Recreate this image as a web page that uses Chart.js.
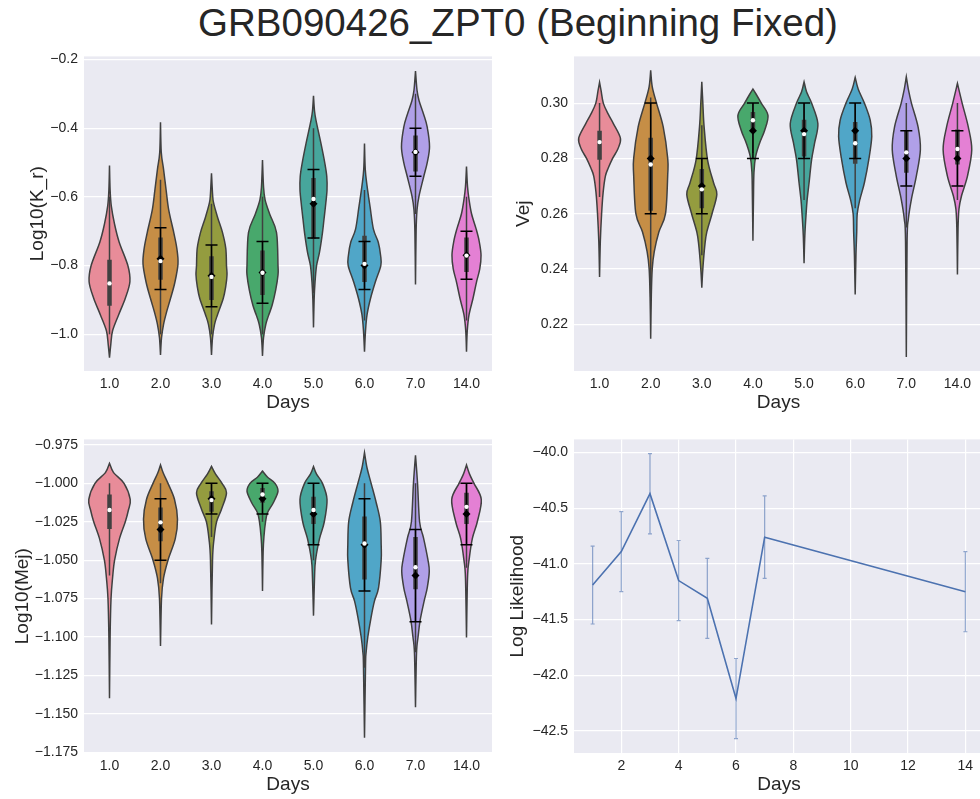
<!DOCTYPE html>
<html>
<head>
<meta charset="utf-8">
<script src="https://cdn.jsdelivr.net/npm/chart.js@4.4.1/dist/chart.umd.min.js"></script>
<style>
  body { margin: 0; background: #fff; width: 980px; height: 799px; overflow: hidden; position: relative;
         font-family: 'Liberation Sans', Arial, sans-serif; }
  .panel { position: absolute; }
  #title { position: absolute; left: 0; width: 1036px; top: 1px; text-align: center;
           font-size: 38.5px; color: #262626; white-space: nowrap; }
</style>
</head>
<body>
<div id="title">GRB090426_ZPT0 (Beginning Fixed)</div>
<div class="panel" style="left:26px;top:42px;width:466px;height:372px"><canvas id="krChart"></canvas></div>
<div class="panel" style="left:512px;top:42px;width:471px;height:372px"><canvas id="vejChart"></canvas></div>
<div class="panel" style="left:11px;top:425px;width:481px;height:371px"><canvas id="mejChart"></canvas></div>
<div class="panel" style="left:506px;top:425px;width:478px;height:371px"><canvas id="llChart"></canvas></div>
<script>
// ---- data ----
const days = ['1.0', '2.0', '3.0', '4.0', '5.0', '6.0', '7.0', '14.0'];

// violin outlines: [value, half width in category units]
const krShapes = [
  [[-0.509,0],[-0.58,0.012],[-0.626,0.035],[-0.68,0.10],[-0.732,0.19],[-0.80,0.36],[-0.847,0.40],[-0.895,0.31],[-0.943,0.18],[-0.99,0.06],[-1.03,0.025],[-1.068,0]],
  [[-0.383,0],[-0.47,0.015],[-0.52,0.06],[-0.58,0.11],[-0.637,0.16],[-0.704,0.26],[-0.75,0.32],[-0.795,0.343],[-0.85,0.28],[-0.896,0.196],[-0.935,0.12],[-0.971,0.06],[-1.01,0.02],[-1.06,0]],
  [[-0.531,0],[-0.59,0.02],[-0.617,0.04],[-0.66,0.12],[-0.704,0.216],[-0.75,0.28],[-0.80,0.294],[-0.827,0.304],[-0.86,0.28],[-0.896,0.23],[-0.943,0.118],[-0.971,0.06],[-1.01,0.02],[-1.06,0]],
  [[-0.493,0],[-0.57,0.02],[-0.608,0.05],[-0.65,0.14],[-0.704,0.275],[-0.80,0.304],[-0.827,0.304],[-0.87,0.26],[-0.915,0.19],[-0.945,0.12],[-0.971,0.065],[-1.01,0.02],[-1.063,0]],
  [[-0.306,0],[-0.35,0.02],[-0.378,0.05],[-0.445,0.147],[-0.50,0.22],[-0.54,0.26],[-0.579,0.265],[-0.62,0.24],[-0.665,0.206],[-0.704,0.176],[-0.761,0.118],[-0.80,0.06],[-0.848,0.03],[-0.90,0.012],[-0.98,0]],
  [[-0.445,0],[-0.52,0.015],[-0.568,0.05],[-0.63,0.11],[-0.694,0.175],[-0.732,0.27],[-0.77,0.315],[-0.80,0.32],[-0.848,0.212],[-0.896,0.118],[-0.943,0.05],[-0.99,0.02],[-1.051,0]],
  [[-0.234,0],[-0.29,0.03],[-0.32,0.07],[-0.36,0.16],[-0.397,0.23],[-0.454,0.275],[-0.50,0.23],[-0.54,0.163],[-0.597,0.07],[-0.637,0.03],[-0.70,0.012],[-0.855,0]],
  [[-0.512,0],[-0.57,0.02],[-0.608,0.05],[-0.65,0.10],[-0.694,0.19],[-0.73,0.25],[-0.77,0.285],[-0.81,0.26],[-0.848,0.196],[-0.896,0.127],[-0.943,0.05],[-0.99,0.015],[-1.051,0]]
];
const krQ3 = [-0.783, -0.718, -0.773, -0.756, -0.545, -0.713, -0.421, -0.718];
const krQ1 = [-0.917, -0.841, -0.900, -0.886, -0.723, -0.848, -0.526, -0.819];
const krMed = [-0.852, -0.787, -0.833, -0.821, -0.606, -0.795, -0.469, -0.771];
const krHi = [-0.60, -0.55, -0.62, -0.60, -0.40, -0.58, -0.30, -0.60];
const krLo = [-1.0, -1.0, -1.0, -1.0, -0.88, -0.96, -0.65, -0.96];
const krMean = [null, -0.78, -0.83, -0.82, -0.62, -0.80, -0.47, -0.77];
const krStd = [null, 0.09, 0.09, 0.09, 0.10, 0.07, 0.07, 0.07];

const vejShapes = [
  [[0.3075,0],[0.3045,0.03],[0.30,0.073],[0.296,0.17],[0.2926,0.27],[0.2873,0.408],[0.2835,0.36],[0.28,0.255],[0.2765,0.17],[0.2736,0.114],[0.2677,0.07],[0.26,0.04],[0.25,0.015],[0.2371,0]],
  [[0.3119,0],[0.306,0.03],[0.30,0.114],[0.2914,0.245],[0.28,0.333],[0.274,0.333],[0.26,0.29],[0.2534,0.16],[0.2463,0.07],[0.24,0.03],[0.23,0.012],[0.2148,0]],
  [[0.3077,0],[0.30,0.02],[0.2914,0.045],[0.2795,0.112],[0.2712,0.23],[0.267,0.294],[0.26,0.2],[0.2534,0.098],[0.2487,0.06],[0.24,0.02],[0.2332,0]],
  [[0.3051,0],[0.3033,0.06],[0.30,0.163],[0.2956,0.294],[0.2902,0.23],[0.2855,0.13],[0.2807,0.053],[0.275,0.02],[0.265,0.01],[0.2502,0]],
  [[0.3077,0],[0.304,0.05],[0.30,0.147],[0.2926,0.27],[0.2855,0.206],[0.2795,0.147],[0.2712,0.098],[0.265,0.06],[0.26,0.04],[0.252,0.015],[0.2421,0]],
  [[0.3093,0],[0.305,0.06],[0.30,0.18],[0.2938,0.294],[0.2879,0.324],[0.28,0.27],[0.2712,0.18],[0.265,0.09],[0.26,0.04],[0.2534,0.03],[0.245,0.015],[0.2308,0]],
  [[0.3095,0],[0.305,0.04],[0.30,0.10],[0.2914,0.23],[0.2831,0.275],[0.2736,0.196],[0.2653,0.10],[0.2581,0.04],[0.25,0.015],[0.2082,0]],
  [[0.3071,0],[0.30,0.092],[0.2914,0.212],[0.2831,0.28],[0.2736,0.196],[0.2665,0.08],[0.2617,0.03],[0.255,0.012],[0.238,0]]
];
const vejQ3 = [0.290, 0.2875, 0.2762, 0.2968, 0.294, 0.2932, 0.290, 0.2905];
const vejQ1 = [0.2795, 0.2611, 0.262, 0.290, 0.2807, 0.2781, 0.2748, 0.2778];
const vejMed = [0.2859, 0.2778, 0.2688, 0.2938, 0.2888, 0.2855, 0.2822, 0.2834];
const vejHi = [0.30, 0.302, 0.292, 0.30, 0.30, 0.30, 0.30, 0.30];
const vejLo = [0.266, 0.23, 0.245, 0.282, 0.265, 0.262, 0.255, 0.265];
const vejMean = [null, 0.28, 0.27, 0.29, 0.29, 0.29, 0.28, 0.28];
const vejStd = [null, 0.02, 0.01, 0.01, 0.01, 0.01, 0.01, 0.01];

const mejShapes = [
  [[-0.987,0],[-0.993,0.08],[-1.0,0.285],[-1.0105,0.406],[-1.0175,0.37],[-1.025,0.31],[-1.036,0.196],[-1.05,0.10],[-1.0616,0.06],[-1.075,0.03],[-1.10,0.012],[-1.1398,0]],
  [[-0.988,0],[-0.993,0.05],[-1.0,0.147],[-1.0105,0.275],[-1.0233,0.333],[-1.036,0.29],[-1.05,0.147],[-1.0616,0.06],[-1.075,0.02],[-1.1059,0]],
  [[-0.989,0],[-0.994,0.08],[-1.0,0.206],[-1.0062,0.294],[-1.0169,0.196],[-1.025,0.10],[-1.036,0.05],[-1.05,0.02],[-1.0918,0]],
  [[-0.992,0],[-0.996,0.10],[-1.0,0.245],[-1.0051,0.304],[-1.0126,0.212],[-1.019,0.10],[-1.025,0.06],[-1.034,0.03],[-1.045,0.012],[-1.0701,0]],
  [[-0.989,0],[-0.994,0.06],[-1.0,0.176],[-1.0105,0.265],[-1.025,0.212],[-1.036,0.118],[-1.05,0.04],[-1.0616,0.02],[-1.0861,0]],
  [[-0.980,0],[-0.99,0.05],[-1.0,0.13],[-1.0126,0.23],[-1.025,0.31],[-1.04,0.327],[-1.05,0.327],[-1.068,0.275],[-1.0765,0.196],[-1.087,0.13],[-1.10,0.065],[-1.1106,0.03],[-1.119,0.02],[-1.1655,0]],
  [[-0.9817,0],[-1.0,0.04],[-1.025,0.08],[-1.0355,0.157],[-1.05,0.245],[-1.0573,0.27],[-1.068,0.23],[-1.0765,0.17],[-1.0893,0.09],[-1.10,0.05],[-1.1106,0.02],[-1.1457,0]],
  [[-0.988,0],[-0.994,0.06],[-1.0,0.147],[-1.0105,0.29],[-1.025,0.212],[-1.036,0.114],[-1.05,0.05],[-1.0616,0.02],[-1.1003,0]]
];
const mejQ3 = [-1.0073, -1.0158, -1.0051, -1.003, -1.0088, -1.0215, -1.035, -1.0062];
const mejQ1 = [-1.0297, -1.0377, -1.0185, -1.0126, -1.0265, -1.0626, -1.069, -1.0265];
const mejMed = [-1.0173, -1.0254, -1.0109, -1.0073, -1.0173, -1.0392, -1.0546, -1.0153];
const mejHi = [-1.0, -1.0, -1.0, -1.0, -1.0, -1.0, -1.0, -1.0];
const mejLo = [-1.06, -1.065, -1.035, -1.025, -1.05, -1.12, -1.11, -1.055];
const mejMean = [null, -1.03, -1.01, -1.01, -1.02, -1.04, -1.06, -1.02];
const mejStd = [null, 0.02, 0.01, 0.01, 0.02, 0.03, 0.03, 0.02];

const llDays = [1, 2, 3, 4, 5, 6, 7, 14];
const llMean = [-41.19, -40.89, -40.37, -41.15, -41.31, -42.21, -40.76, -41.25];
const llErr = [0.35, 0.36, 0.36, 0.36, 0.36, 0.36, 0.37, 0.36];

// ---- style ----
const violinColors = ['#e88c99', '#c68e46', '#949c3f', '#48a86c', '#47a69c', '#50a6c8', '#b0a0e8', '#e480d4'];
const gray = '#404040';
const txt = '#262626';
const bg = '#eaeaf2';
Chart.defaults.font.family = "'Liberation Sans', Arial, sans-serif";
Chart.defaults.color = txt;

const fmt = d => v => v.toFixed(d).replace('-', '\u2212');

const background = {
  id: 'bg',
  beforeDraw(chart) {
    const {ctx, chartArea: a} = chart;
    ctx.save();
    ctx.fillStyle = bg;
    ctx.fillRect(a.left, a.top, a.width, a.height);
    ctx.restore();
  }
};

function spline(ctx, p) {
  for (let i = 0; i < p.length - 1; i++) {
    const p0 = p[i - 1] || p[i], p1 = p[i], p2 = p[i + 1], p3 = p[i + 2] || p[i + 1];
    ctx.bezierCurveTo(p1[0] + (p2[0] - p0[0]) / 6, p1[1] + (p2[1] - p0[1]) / 6,
                      p2[0] - (p3[0] - p1[0]) / 6, p2[1] - (p3[1] - p1[1]) / 6, p2[0], p2[1]);
  }
}

function violins(shapes, q1, q3, lo, hi, mean, sd) {
  return {
    id: 'violins',
    beforeDatasetsDraw(chart) {
      const {ctx, chartArea: a, scales: {x, y}} = chart;
      const step = x.getPixelForValue(1) - x.getPixelForValue(0);
      ctx.save();
      ctx.beginPath();
      ctx.rect(a.left, a.top, a.width, a.height);
      ctx.clip();
      shapes.forEach((shape, i) => {
        const cx = x.getPixelForValue(i);
        const right = shape.map(([v, w]) => [cx + w * step, y.getPixelForValue(v)]);
        const left = shape.map(([v, w]) => [cx - w * step, y.getPixelForValue(v)]).reverse();
        ctx.beginPath();
        ctx.moveTo(right[0][0], right[0][1]);
        spline(ctx, right);
        ctx.lineTo(left[0][0], left[0][1]);
        spline(ctx, left);
        ctx.closePath();
        ctx.fillStyle = violinColors[i];
        ctx.fill();
        ctx.strokeStyle = gray;
        ctx.lineWidth = 1.5;
        ctx.stroke();
        // whiskers and box
        ctx.beginPath();
        ctx.moveTo(cx, y.getPixelForValue(hi[i]));
        ctx.lineTo(cx, y.getPixelForValue(lo[i]));
        ctx.lineWidth = 1.5;
        ctx.stroke();
        ctx.beginPath();
        ctx.moveTo(cx, y.getPixelForValue(q3[i]));
        ctx.lineTo(cx, y.getPixelForValue(q1[i]));
        ctx.lineWidth = 4.5;
        ctx.stroke();
      });
      // error bars
      ctx.strokeStyle = '#000';
      ctx.lineWidth = 1.5;
      mean.forEach((m, i) => {
        if (m === null) return;
        const cx = x.getPixelForValue(i);
        const yt = y.getPixelForValue(m + sd[i]), yb = y.getPixelForValue(m - sd[i]);
        ctx.beginPath();
        ctx.moveTo(cx, yt); ctx.lineTo(cx, yb);
        ctx.moveTo(cx - 6, yt); ctx.lineTo(cx + 6, yt);
        ctx.moveTo(cx - 6, yb); ctx.lineTo(cx + 6, yb);
        ctx.stroke();
      });
      ctx.restore();
    }
  };
}

function violinChart(id, shapes, q1, q3, med, lo, hi, mean, sd, yMin, yMax, yStep, dec, yTitle, yWidth) {
  return new Chart(document.getElementById(id), {
    type: 'line',
    data: {
      labels: days,
      datasets: [
        { data: med, showLine: false, pointStyle: 'circle', pointRadius: 2.2,
          pointBackgroundColor: '#fff', pointBorderWidth: 0, order: 0 },
        { data: mean, showLine: false, pointStyle: 'rectRot', pointRadius: 4,
          pointBackgroundColor: '#000', pointBorderWidth: 0, order: 1 }
      ]
    },
    options: {
      responsive: true, maintainAspectRatio: false, animation: false, events: [],
      layout: { autoPadding: false, padding: { top: 10, right: 0, bottom: 0, left: 0 } },
      plugins: { legend: { display: false }, tooltip: { enabled: false } },
      scales: {
        x: {
          offset: true,
          grid: { display: false, drawTicks: false }, border: { display: false },
          ticks: { font: { size: 14 }, padding: 5, color: txt },
          title: { display: true, text: 'Days', font: { size: 19 }, padding: 0, color: txt },
          afterFit: s => { s.height = 43; }
        },
        y: {
          min: yMin, max: yMax,
          grid: { color: '#fff', lineWidth: 1.2, drawTicks: false }, border: { display: false },
          ticks: { stepSize: yStep, includeBounds: false, font: { size: 14 }, padding: 6, color: txt, callback: fmt(dec) },
          title: { display: true, text: yTitle, font: { size: 19 }, padding: 0, color: txt },
          afterFit: s => { s.width = yWidth; }
        }
      }
    },
    plugins: [background, violins(shapes, q1, q3, lo, hi, mean, sd)]
  });
}

violinChart('krChart', krShapes, krQ1, krQ3, krMed, krLo, krHi, krMean, krStd,
            -1.107, -0.191, 0.2, 1, 'Log10(K_r)', 58);
violinChart('vejChart', vejShapes, vejQ1, vejQ3, vejMed, vejLo, vejHi, vejMean, vejStd,
            0.2031, 0.3169, 0.02, 2, 'Vej', 62);
violinChart('mejChart', mejShapes, mejQ1, mejQ3, mejMed, mejLo, mejHi, mejMean, mejStd,
            -1.1755, -0.9714, 0.025, 3, 'Log10(Mej)', 73);

// log likelihood panel
const lineBlue = '#4c72b0';
const errorBars = {
  id: 'errorBars',
  beforeDatasetsDraw(chart) {
    const {ctx, scales: {x, y}} = chart;
    ctx.save();
    ctx.strokeStyle = 'rgba(76,114,176,0.6)';
    ctx.lineWidth = 1.2;
    llDays.forEach((d, i) => {
      const px = x.getPixelForValue(d);
      const yt = y.getPixelForValue(llMean[i] + llErr[i]), yb = y.getPixelForValue(llMean[i] - llErr[i]);
      ctx.beginPath();
      ctx.moveTo(px, yt); ctx.lineTo(px, yb);
      ctx.moveTo(px - 2, yt); ctx.lineTo(px + 2, yt);
      ctx.moveTo(px - 2, yb); ctx.lineTo(px + 2, yb);
      ctx.stroke();
    });
    ctx.restore();
  }
};

new Chart(document.getElementById('llChart'), {
  type: 'line',
  data: {
    datasets: [{
      data: llDays.map((d, i) => ({ x: d, y: llMean[i] })),
      borderColor: lineBlue, borderWidth: 1.6, pointRadius: 0, tension: 0
    }]
  },
  options: {
    responsive: true, maintainAspectRatio: false, animation: false, events: [],
    layout: { autoPadding: false, padding: { top: 10, right: 0, bottom: 0, left: 0 } },
    plugins: { legend: { display: false }, tooltip: { enabled: false } },
    scales: {
      x: {
        type: 'linear', min: 0.35, max: 14.65,
        grid: { color: '#fff', lineWidth: 1.2, drawTicks: false }, border: { display: false },
        ticks: { stepSize: 2, includeBounds: false, font: { size: 14 }, padding: 5, color: txt },
        title: { display: true, text: 'Days', font: { size: 19 }, padding: 0, color: txt },
        afterFit: s => { s.height = 43; }
      },
      y: {
        min: -42.699, max: -39.882,
        grid: { color: '#fff', lineWidth: 1.2, drawTicks: false }, border: { display: false },
        ticks: { stepSize: 0.5, includeBounds: false, font: { size: 14 }, padding: 6, color: txt, callback: fmt(1) },
        title: { display: true, text: 'Log Likelihood', font: { size: 19 }, padding: 0, color: txt },
        afterFit: s => { s.width = 68; }
      }
    }
  },
  plugins: [background, errorBars]
});
</script>
</body>
</html>
